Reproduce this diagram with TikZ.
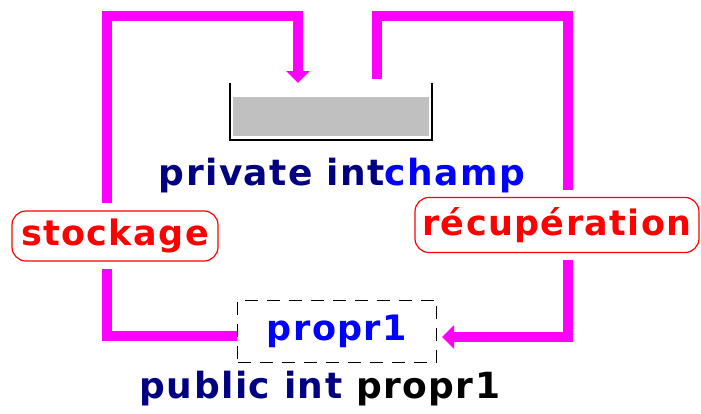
\documentclass[tikz,border=0pt]{standalone}
\usepackage{fontspec}
\setmainfont{DejaVu Sans}
\newfontfamily\diagfont[LetterSpace=4]{DejaVu Sans}
\usepackage{tikz}
\usetikzlibrary{arrows.meta,positioning}

\definecolor{flowmag}{HTML}{FF00FF}
\definecolor{navytxt}{HTML}{000080}
\definecolor{bluetxt}{HTML}{0000FF}
\definecolor{redtxt}{HTML}{FF0000}
\definecolor{tankgray}{HTML}{C0C0C0}

\tikzset{
	flow/.style={draw=flowmag,line width=10pt},
	flowtip/.style={-{Triangle[width=23pt,length=12pt]}},
	labelbox/.style={draw=redtxt,line width=1.2pt,rounded corners=14pt,text=redtxt,
		inner sep=0pt,font=\diagfont\fontsize{35}{40}\selectfont\bfseries},
	propbox/.style={draw=black,line width=1pt,dash pattern=on 13pt off 9pt,text=bluetxt,
		inner sep=0pt,font=\diagfont\fontsize{35}{40}\selectfont\bfseries},
	code/.style={anchor=base,inner sep=0pt,font=\diagfont\fontsize{36}{40}\selectfont\bfseries}
}

\begin{document}
\begin{tikzpicture}[x=1pt,y=-1pt]
						\useasboundingbox (0,0) rectangle (701,413);
						% tank for the field
						\fill[tankgray] (233,97) rectangle (429,136);
						\draw[line width=1.5pt] (230,83) -- (230,140) -- (432,140) -- (432,83);
						\coordinate (tank in) at (298,83);
						\coordinate (tank out) at (377,79);
						\coordinate (top left) at (107,16);
						\coordinate (top right) at (568,16);
						\coordinate (bottom left) at (107,336);
						\coordinate (bottom right) at (568,337);
						% labels
						\node[labelbox,minimum width=206pt,minimum height=50pt] (stock) at (115,236) {stockage};
						\node[labelbox,minimum width=284pt,minimum height=55pt] (recup) at (557,225) {récupération};
						\node[propbox,minimum width=199pt,minimum height=62pt] (prop) at (337,331) {propr1};
						\node[code] (champ) at (342,185) {\textcolor{navytxt}{private int}\textcolor{bluetxt}{champ}};
						\node[code] (pubprop) at (320,398) {\textcolor{navytxt}{public int} \textcolor{black}{propr1}};
						% storing
						\draw[flow,shorten >=7pt] (bottom left -| prop.west) -- (bottom left) -- (bottom left |- stock.south);
						\draw[flow,flowtip,shorten <=7pt] (top left |- stock.north) -- (top left) -| (tank in);
						% reading back
						\draw[flow,shorten >=7pt] (tank out) |- (top right) -- (top right |- recup.north);
						\draw[flow,flowtip,shorten <=7pt] (top right |- recup.south) -- (bottom right) -- ([xshift=5pt]bottom right -| prop.east);
					\end{tikzpicture}
\end{document}
